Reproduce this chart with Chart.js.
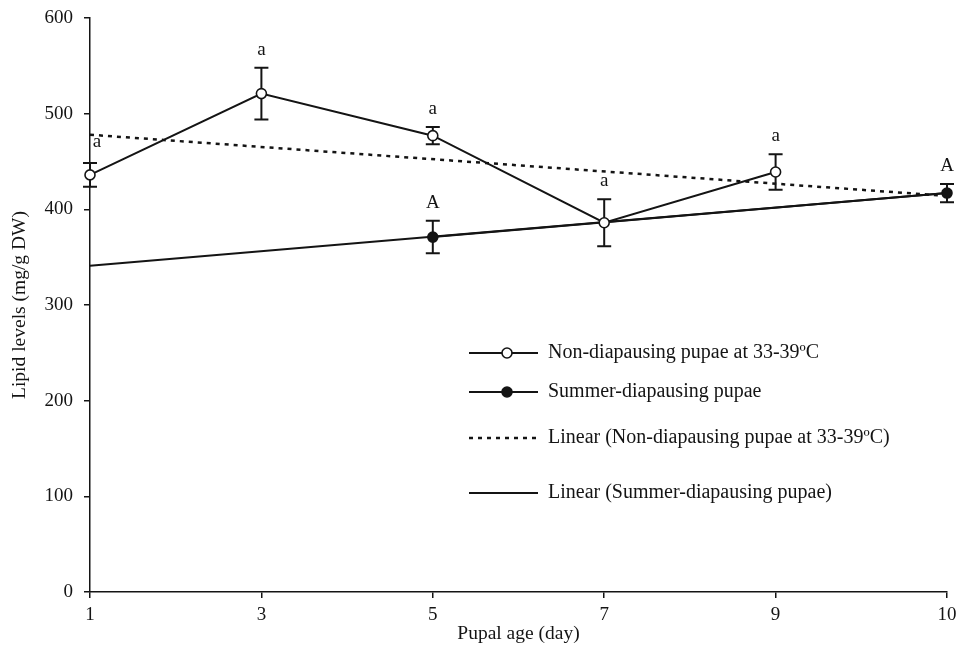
<!DOCTYPE html>
<html>
<head>
<meta charset="utf-8">
<script src="https://cdn.jsdelivr.net/npm/chart.js@4.4.1/dist/chart.umd.min.js"></script>
<style>
  html, body { margin: 0; padding: 0; background: #fff; }
  canvas { display: block; }
</style>
</head>
<body>
<canvas id="c" width="960" height="651"></canvas>
<script>
// Pupal age (days) and lipid levels (mg/g DW)
const days = ['1', '3', '5', '7', '9', '10'];

const nonDiapause = [436, 521, 477, 386, 439, null];
const nonDiapauseErr = [12.5, 27, 9, 24.5, 18.5, null];
const nonDiapauseLetters = ['a', 'a', 'a', 'a', 'a', null];

const summerDiapause = [null, null, 371, null, null, 417];
const summerDiapauseErr = [null, null, 17, null, null, 9.5];
const summerDiapauseLetters = [null, null, 'A', null, null, 'A'];

// Linear trend lines (end points)
const trendNonDiapause = [478, null, null, null, null, 414];
const trendSummerDiapause = [341, null, null, null, null, 417];

const yTicks = [0, 100, 200, 300, 400, 500, 600];

const legendLabels = [
  'Non-diapausing pupae at 33-39ºC',
  'Summer-diapausing pupae',
  'Linear (Non-diapausing pupae at 33-39ºC)',
  'Linear (Summer-diapausing pupae)'
];

const FONT = '"Liberation Serif", "Times New Roman", serif';
const INK = '#141414';

// Error bars drawn under the markers, significance letters above them
const errorBars = {
  id: 'errorBars',
  beforeDatasetsDraw(chart) {
    const { ctx, scales: { x, y } } = chart;
    ctx.save();
    ctx.strokeStyle = INK;
    ctx.lineWidth = 2;
    chart.data.datasets.forEach(ds => {
      if (!ds.err) return;
      ds.data.forEach((v, i) => {
        const e = ds.err[i];
        if (v == null || e == null) return;
        const px = x.getPixelForValue(i);
        const yt = y.getPixelForValue(v + e);
        const yb = y.getPixelForValue(v - e);
        ctx.beginPath();
        ctx.moveTo(px, yt); ctx.lineTo(px, yb);
        ctx.moveTo(px - 7, yt); ctx.lineTo(px + 7, yt);
        ctx.moveTo(px - 7, yb); ctx.lineTo(px + 7, yb);
        ctx.stroke();
      });
    });
    ctx.restore();
  },
  afterDatasetsDraw(chart) {
    const { ctx, scales: { x, y } } = chart;
    ctx.save();
    ctx.fillStyle = INK;
    ctx.font = '19px ' + FONT;
    ctx.textAlign = 'center';
    ctx.textBaseline = 'alphabetic';
    chart.data.datasets.forEach(ds => {
      if (!ds.letters) return;
      ds.letters.forEach((t, i) => {
        if (!t || ds.data[i] == null) return;
        let px = x.getPixelForValue(i);
        if (i === 0) px += 7;
        const yt = y.getPixelForValue(ds.data[i] + (ds.err[i] || 0));
        ctx.fillText(t, px, yt - (i === 0 ? 16 : 13));
      });
    });
    ctx.restore();
  }
};

// Legend placed inside the plot area
const innerLegend = {
  id: 'innerLegend',
  afterDraw(chart, args, opts) {
    const { ctx } = chart;
    ctx.save();
    ctx.font = '20px ' + FONT;
    ctx.textBaseline = 'middle';
    ctx.textAlign = 'left';
    chart.data.datasets.forEach((ds, i) => {
      const yy = opts.rows[i];
      ctx.strokeStyle = INK;
      ctx.lineWidth = ds.borderWidth;
      ctx.setLineDash(ds.borderDash || []);
      ctx.beginPath();
      ctx.moveTo(opts.x0, yy);
      ctx.lineTo(opts.x1, yy);
      ctx.stroke();
      ctx.setLineDash([]);
      if (ds.pointRadius > 0) {
        ctx.beginPath();
        ctx.arc(opts.marker, yy, ds.pointRadius, 0, Math.PI * 2);
        ctx.fillStyle = ds.pointBackgroundColor;
        ctx.fill();
        ctx.lineWidth = ds.pointBorderWidth;
        ctx.stroke();
      }
      ctx.fillStyle = INK;
      ctx.fillText(legendLabels[i], opts.text, yy);
    });
    ctx.restore();
  }
};

new Chart(document.getElementById('c'), {
  type: 'line',
  data: {
    labels: days,
    datasets: [
      {
        label: legendLabels[0],
        data: nonDiapause,
        err: nonDiapauseErr,
        letters: nonDiapauseLetters,
        borderColor: INK,
        borderWidth: 2,
        pointRadius: 5,
        pointBackgroundColor: '#fff',
        pointBorderColor: INK,
        pointBorderWidth: 1.6,
        tension: 0,
        spanGaps: false
      },
      {
        label: legendLabels[1],
        data: summerDiapause,
        err: summerDiapauseErr,
        letters: summerDiapauseLetters,
        borderColor: INK,
        borderWidth: 2,
        pointRadius: 5,
        pointBackgroundColor: INK,
        pointBorderColor: INK,
        pointBorderWidth: 1.6,
        tension: 0,
        spanGaps: true
      },
      {
        label: legendLabels[2],
        data: trendNonDiapause,
        borderColor: INK,
        borderWidth: 2.5,
        borderDash: [4, 5],
        pointRadius: 0,
        spanGaps: true
      },
      {
        label: legendLabels[3],
        data: trendSummerDiapause,
        borderColor: INK,
        borderWidth: 2,
        pointRadius: 0,
        spanGaps: true
      }
    ]
  },
  options: {
    responsive: false,
    animation: false,
    events: [],
    layout: { padding: { top: 18, right: 13, left: 0, bottom: 0 } },
    plugins: {
      legend: { display: false },
      tooltip: { enabled: false },
      innerLegend: { x0: 469, x1: 538, marker: 507, text: 548, rows: [353, 392, 438, 493] }
    },
    scales: {
      x: {
        type: 'category',
        offset: false,
        afterFit(s) { s.height = 59; s.paddingLeft = 0; s.paddingRight = 0; },
        grid: { display: true, drawOnChartArea: false, drawTicks: true, tickLength: 6, color: INK, lineWidth: 1.5 },
        border: { display: true, color: INK, width: 1.5 },
        ticks: { color: INK, font: { family: FONT, size: 19 }, padding: 6, maxRotation: 0, autoSkip: false },
        title: { display: true, text: 'Pupal age (day)', color: INK, font: { family: FONT, size: 19.5 }, padding: { top: 0, bottom: 5 } }
      },
      y: {
        min: 0,
        max: 600,
        afterFit(s) { s.width = 90; s.paddingTop = 0; s.paddingBottom = 0; },
        afterBuildTicks(s) { s.ticks = yTicks.map(v => ({ value: v })); },
        grid: { display: true, drawOnChartArea: false, drawTicks: true, tickLength: 6, color: INK, lineWidth: 1.5 },
        border: { display: true, color: INK, width: 1.5 },
        ticks: { color: INK, font: { family: FONT, size: 19 }, padding: 11 },
        title: { display: true, text: 'Lipid levels (mg/g DW)', color: INK, font: { family: FONT, size: 19.5 }, padding: { top: 8, bottom: 0 } }
      }
    }
  },
  plugins: [errorBars, innerLegend]
});
</script>
</body>
</html>
